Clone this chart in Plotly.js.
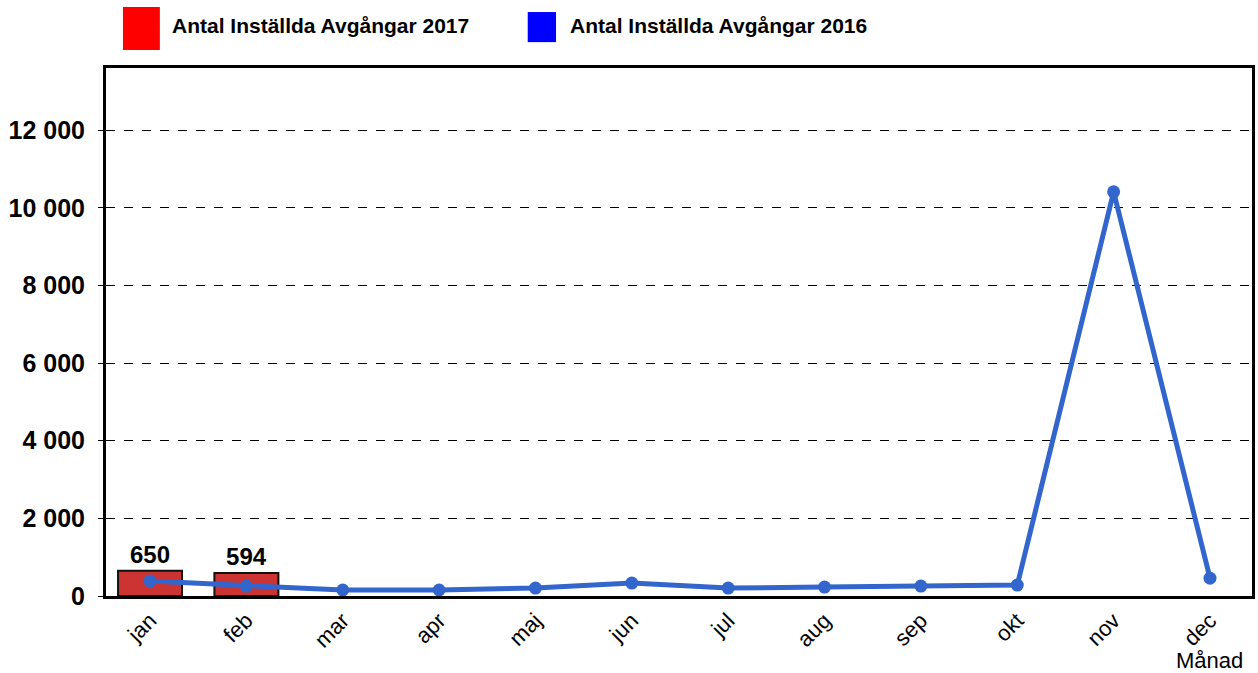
<!DOCTYPE html>
<html><head><meta charset="utf-8">
<script src="https://cdn.plot.ly/plotly-3.0.1.min.js"></script>
<style>html,body{margin:0;padding:0;background:#fff}#c{width:1258px;height:673px}</style>
</head><body><div id="c"></div>
<script>
const months = ["jan","feb","mar","apr","maj","jun","jul","aug","sep","okt","nov","dec"];
const months2017 = ["jan","feb"];
const values2017 = [650, 594];
const values2016 = [385, 256, 154, 154, 205, 333, 205, 231, 256, 282, 10410, 460];
const name2017 = "Antal Inställda Avgångar 2017";
const name2016 = "Antal Inställda Avgångar 2016";
const font = "Liberation Sans, Arial, sans-serif";

const traces = [
  {type:"bar", x:months2017, y:values2017, name:name2017, width:0.664,
   marker:{color:"#cc3333", line:{color:"#111", width:2}},
   text:values2017.map(String), textposition:"outside", cliponaxis:false,
   textfont:{family:font, size:24, color:"#000", weight:"bold"}},
  {type:"scatter", mode:"lines+markers", x:months, y:values2016, name:name2016,
   line:{color:"#3366cc", width:5}, marker:{color:"#3366cc", size:13}}
];
const layout = {
  width:1258, height:673, showlegend:false,
  margin:{l:106, r:6, t:68, b:77},
  paper_bgcolor:"#fff", plot_bgcolor:"#fff",
  separators:", ",
  font:{family:font, color:"#000"},
  xaxis:{type:"category", categoryorder:"array", categoryarray:months, range:[-0.457,11.436],
    tickangle:-45, tickfont:{size:22, family:font}, showline:true, linecolor:"#000", linewidth:3,
    mirror:true, ticks:"", showgrid:false, zeroline:false},
  yaxis:{range:[0,13600], dtick:2000, tickformat:",d", tickfont:{size:25, family:font, weight:"bold"},
    showline:true, linecolor:"#000", linewidth:3, mirror:true, ticks:"outside", ticklen:5, tickcolor:"#000", tickwidth:1,
    ticklabelstandoff:8,
    showgrid:true, gridcolor:"#000", griddash:"dash", gridwidth:1, zeroline:false},
  shapes:[
    {type:"rect", xref:"paper", yref:"paper", x0:0.0148, x1:0.047, y0:1.034, y1:1.1155, fillcolor:"#ff0000", line:{width:0}},
    {type:"rect", xref:"paper", yref:"paper", x0:0.368, x1:0.3927, y0:1.049, y1:1.106, fillcolor:"#0000ff", line:{width:0}}
  ],
  annotations:[
    {xref:"paper", yref:"paper", x:0.0558, y:1.081, xanchor:"left", yanchor:"middle", text:name2017, showarrow:false,
     font:{family:font, size:21, weight:"bold", color:"#000"}},
    {xref:"paper", yref:"paper", x:0.4031, y:1.081, xanchor:"left", yanchor:"middle", text:name2016, showarrow:false,
     font:{family:font, size:21, weight:"bold", color:"#000"}},
    {xref:"paper", yref:"paper", x:0.9939, y:-0.123, xanchor:"right", yanchor:"middle", text:"Månad", showarrow:false,
     font:{family:font, size:22, color:"#000"}}
  ]
};
Plotly.newPlot("c", traces, layout, {displayModeBar:false});
</script></body></html>
